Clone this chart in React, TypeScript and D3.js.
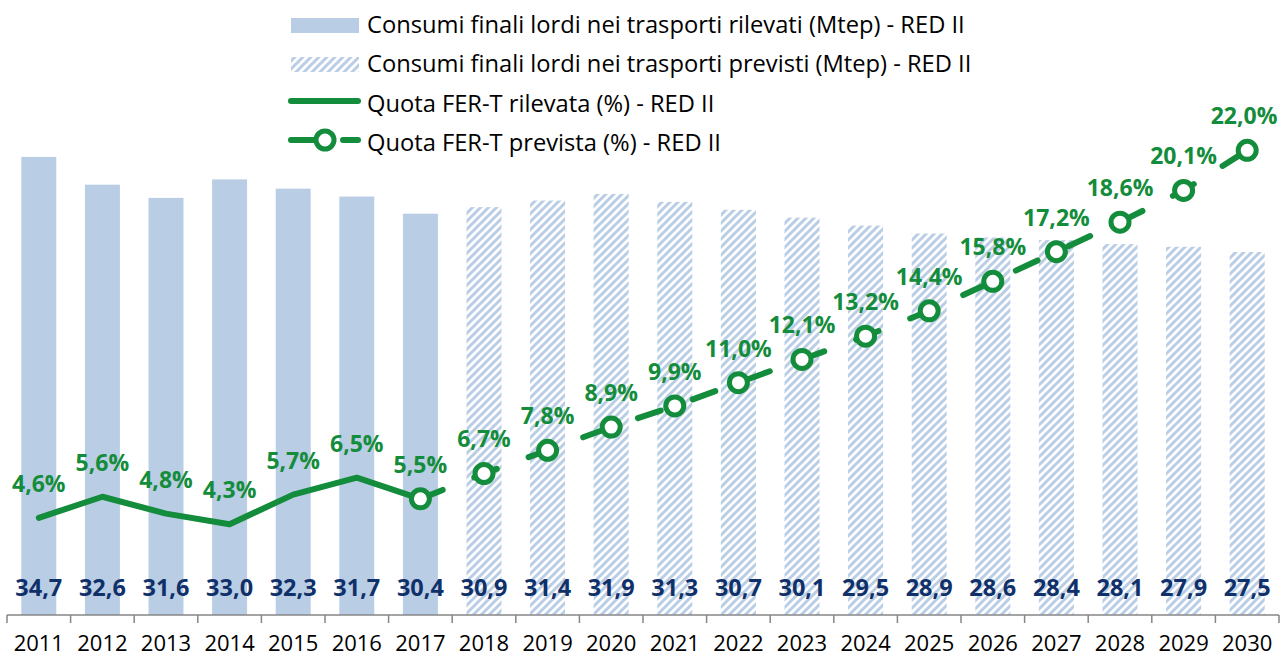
import React from "react";
import * as d3 from "d3";

const years = ["2011","2012","2013","2014","2015","2016","2017","2018","2019","2020","2021","2022","2023","2024","2025","2026","2027","2028","2029","2030"];
const consumi = [34.7,32.6,31.6,33.0,32.3,31.7,30.4,30.9,31.4,31.9,31.3,30.7,30.1,29.5,28.9,28.6,28.4,28.1,27.9,27.5];
const rilevatiCount = 7; // 2011-2017 rilevati
const quotaRilevata = [4.6,5.6,4.8,4.3,5.7,6.5,5.5];
const quotaPrevista = [5.5,6.7,7.8,8.9,9.9,11.0,12.1,13.2,14.4,15.8,17.2,18.6,20.1,22.0];
const quotaLabels = ["4,6%","5,6%","4,8%","4,3%","5,7%","6,5%","5,5%","6,7%","7,8%","8,9%","9,9%","11,0%","12,1%","13,2%","14,4%","15,8%","17,2%","18,6%","20,1%","22,0%"];
const legendLabels = [
  "Consumi finali lordi nei trasporti rilevati (Mtep) - RED II",
  "Consumi finali lordi nei trasporti previsti (Mtep) - RED II",
  "Quota FER-T rilevata (%) - RED II",
  "Quota FER-T prevista (%) - RED II",
];

const W = 1281, H = 658;
const GREEN = "#138C3B";
const BAR = "#B9CDE5";
const NAVY = "#10306A";
const FONT = "'Open Sans', 'Noto Sans', sans-serif";

export default function App() {
  const x = d3.scaleBand<string>().domain(years).range([7, 1279]).paddingInner(0.45).paddingOuter(0.225);
  const xb = d3.scaleBand<string>().domain(years).range([7, 1279]);
  const y = d3.scaleLinear().domain([0, 40]).range([615, 87]);
  const y2 = d3.scaleLinear().domain([0, 25]).range([615, 87]);
  const cx = (i: number) => (xb(years[i]) as number) + xb.bandwidth() / 2;

  const line = d3.line<number>().x((d, i) => cx(i)).y((d) => y2(d));
  const linePrev = d3.line<number>().x((d, i) => cx(i + rilevatiCount - 1)).y((d) => y2(d));
  const allQuota = [...quotaRilevata, ...quotaPrevista.slice(1)];

  return (
    <svg width={W} height={H} style={{ position: "absolute", left: 0, top: 0, background: "#fff" }} fontFamily={FONT}>
      <defs>
        <pattern id="hatch" patternUnits="userSpaceOnUse" width={8} height={8}>
          <rect width={8} height={8} fill="#fff" />
          <path d="M-2,2 L2,-2 M0,8 L8,0 M6,10 L10,6" stroke={BAR} strokeWidth={3} />
        </pattern>
      </defs>
      {/* bars */}
      {consumi.map((v, i) => (
        <rect key={years[i]} x={x(years[i])} width={x.bandwidth()} y={y(v)} height={y(0) - y(v)}
          fill={i < rilevatiCount ? BAR : "url(#hatch)"} />
      ))}
      {/* axis */}
      <line x1={7} x2={1279} y1={615} y2={615} stroke="#868686" strokeWidth={1.5} />
      {d3.range(years.length + 1).map((i) => {
        const xx = 7 + i * xb.bandwidth();
        return <line key={i} x1={xx} x2={xx} y1={615} y2={623} stroke="#868686" strokeWidth={1.5} />;
      })}
      {years.map((yr, i) => (
        <text key={yr} x={cx(i)} y={651} textAnchor="middle" fontSize={22} fill="#000">{yr}</text>
      ))}
      {/* bar values */}
      {consumi.map((v, i) => (
        <text key={"v" + i} x={cx(i)} y={596} textAnchor="middle" fontSize={23.5} fontWeight="bold" fill={NAVY}>
          {v.toFixed(1).replace(".", ",")}
        </text>
      ))}
      {/* lines */}
      <path d={line(quotaRilevata) as string} fill="none" stroke={GREEN} strokeWidth={6} strokeLinecap="round" strokeLinejoin="round" />
      <path d={linePrev(quotaPrevista) as string} fill="none" stroke={GREEN} strokeWidth={6} strokeLinecap="round"
        strokeDasharray="24 34" strokeDashoffset={0} />
      {quotaPrevista.map((v, i) => (
        <circle key={"m" + i} cx={cx(i + rilevatiCount - 1)} cy={y2(v)} r={9} fill="#fff" stroke={GREEN} strokeWidth={5} />
      ))}
      {allQuota.map((v, i) => (
        <text key={"q" + i} x={Math.min(cx(i), 1244)} y={y2(v) - 26} textAnchor="middle" fontSize={23} fontWeight="bold" fill={GREEN}>
          {quotaLabels[i]}
        </text>
      ))}
      {/* legend */}
      <g>
        <rect x={291} y={18} width={68} height={15} fill={BAR} />
        <rect x={291} y={57} width={68} height={15} fill="url(#hatch)" />
        <line x1={291} x2={358} y1={101} y2={101} stroke={GREEN} strokeWidth={6} strokeLinecap="round" />
        <line x1={291} x2={358} y1={140} y2={140} stroke={GREEN} strokeWidth={6} strokeLinecap="round" strokeDasharray="30 22" />
        <circle cx={325} cy={140} r={9} fill="#fff" stroke={GREEN} strokeWidth={5} />
        {legendLabels.map((t, i) => (
          <text key={t} x={367} y={33 + i * 39.3} fontSize={23.7} fill="#000">{t}</text>
        ))}
      </g>
    </svg>
  );
}
